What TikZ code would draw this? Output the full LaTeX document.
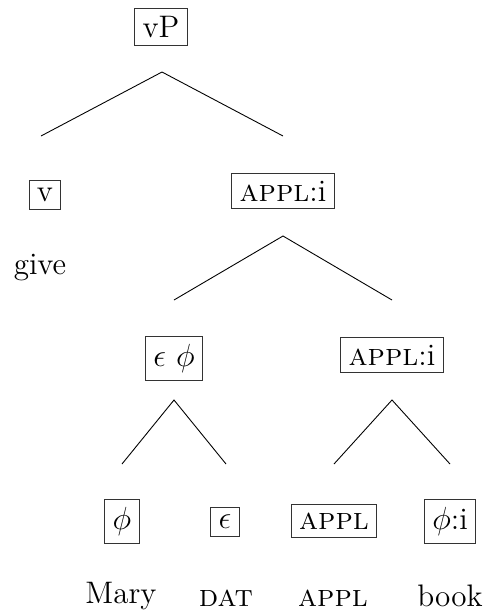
\documentclass[12pt,tikz,border=0pt]{standalone}
\usetikzlibrary{backgrounds}
\tikzset{
    line cap=round,
    line join=round,
    cat/.style={
        rectangle,
        draw=black!80,
        line width=0.45pt,
        inner sep=3.5pt,
        text=black
    },
    word/.style={
        inner sep=2pt,
        text=black
    },
    branch/.style={
        draw=black,
        line width=0.4pt
    }
}

\begin{document}
\begin{tikzpicture}[x=0.45pt, y=-0.45pt,
    every node/.style={font=\fontsize{14}{17}\selectfont}]
\useasboundingbox (0,0) rectangle (487,613);

% Root
\node[cat] (vP) at (161,27) {vP};

% Level 1
\node[cat] (v) at (45,195) {v};
\node[cat] (applA) at (283,191) {\textsc{appl}:i};
\node[word] (give) at (40,268) {give};

% Level 2
\node[cat] (epsphi) at (174,358) {$\epsilon\ \phi$};
\node[cat] (applB) at (392,355) {\textsc{appl}:i};

% Level 3
\node[cat] (phi) at (122,521) {$\phi$};
\node[cat] (eps) at (225,522) {$\epsilon$};
\node[cat] (appl) at (334,521) {\textsc{appl}};
\node[cat] (phii) at (450,521) {$\phi$:i};

% Words
\node[word] (mary) at (121,596) {Mary};
\node[word] (dat) at (226,598) {\textsc{dat}};
\node[word] (applw) at (333,598) {\textsc{appl}};
\node[word] (book) at (450,596) {book};

% Branch points (free-standing, gaps to the boxes)
\coordinate (vP-top) at (162,72);
\coordinate (v-foot) at (41,136);
\coordinate (applA-foot) at (283,136);
\coordinate (applA-top) at (283,236);
\coordinate (epsphi-foot) at (174,300);
\coordinate (applB-foot) at (392,300);
\coordinate (epsphi-top) at (174,400);
\coordinate (phi-foot) at (122,464);
\coordinate (eps-foot) at (226,464);
\coordinate (applB-top) at (392,400);
\coordinate (appl-foot) at (334,464);
\coordinate (phii-foot) at (450,464);

\draw[branch] (v-foot) -- (vP-top) -- (applA-foot);
\draw[branch] (epsphi-foot) -- (applA-top) -- (applB-foot);
\draw[branch] (phi-foot) -- (epsphi-top) -- (eps-foot);
\draw[branch] (appl-foot) -- (applB-top) -- (phii-foot);
\end{tikzpicture}
\end{document}
